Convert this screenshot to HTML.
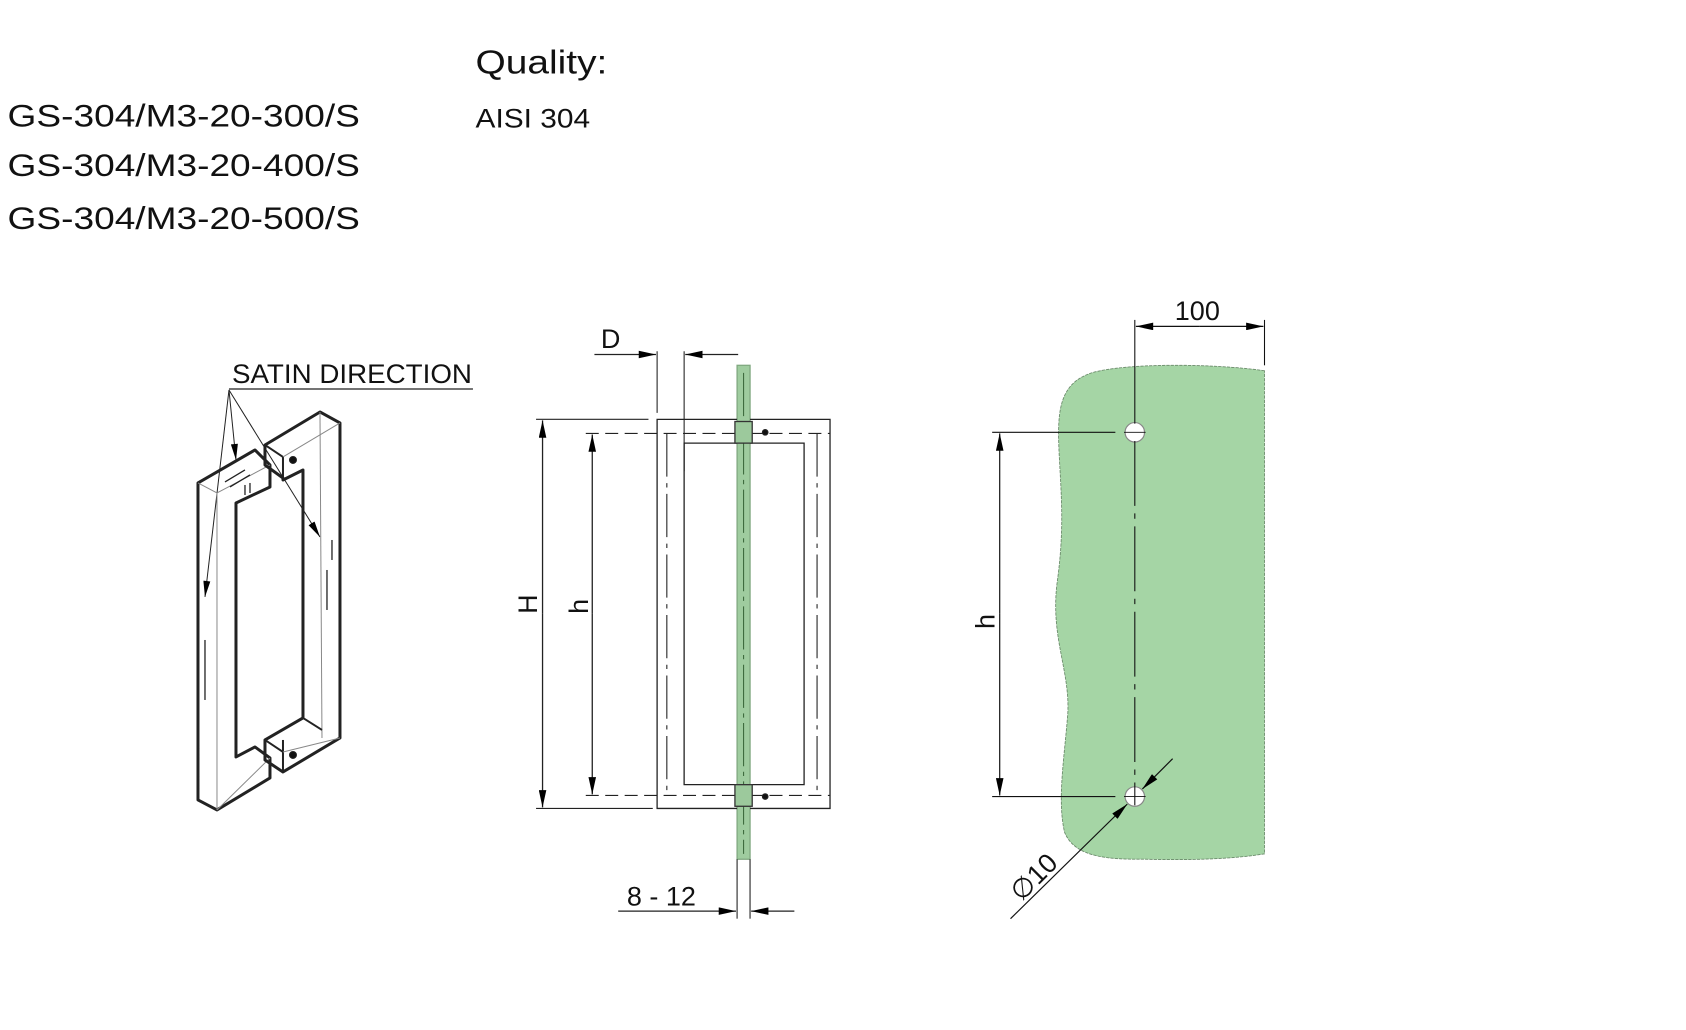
<!DOCTYPE html>
<html><head><meta charset="utf-8"><style>
html,body{margin:0;padding:0;background:#fff;width:1686px;height:1030px;overflow:hidden}
svg{display:block}
text{font-family:"Liberation Sans",sans-serif;fill:#111}
</style></head><body>
<svg width="1686" height="1030" viewBox="0 0 1560 953" preserveAspectRatio="none" xmlns="http://www.w3.org/2000/svg">
<defs>
<marker id="a" viewBox="0 0 16 7" refX="16" refY="3.5" markerWidth="18" markerHeight="7" markerUnits="userSpaceOnUse" orient="auto"><path d="M0,0 L16,3.5 L0,7 z" fill="#000"/></marker>
</defs>
<text x="440" y="68" font-size="31" textLength="122" lengthAdjust="spacingAndGlyphs">Quality:</text>
<text x="440" y="118" font-size="25" textLength="106" lengthAdjust="spacingAndGlyphs">AISI 304</text>
<text x="7" y="117" font-size="29" textLength="326" lengthAdjust="spacingAndGlyphs">GS-304/M3-20-300/S</text>
<text x="7" y="163" font-size="29" textLength="326" lengthAdjust="spacingAndGlyphs">GS-304/M3-20-400/S</text>
<text x="7" y="212" font-size="29" textLength="326" lengthAdjust="spacingAndGlyphs">GS-304/M3-20-500/S</text>

<g transform="scale(0.9252)" fill="none" stroke="#222" stroke-linejoin="round">
<text x="232" y="383" font-size="27" stroke="none" textLength="240" lengthAdjust="spacingAndGlyphs">SATIN DIRECTION</text>
<line x1="229" y1="389" x2="473" y2="389" stroke-width="1.2"/>
<g stroke-width="1" marker-end="url(#a)">
<line x1="229" y1="390" x2="205" y2="597"/>
<line x1="229" y1="390" x2="236" y2="460"/>
<line x1="229" y1="390" x2="320" y2="537"/>
</g>
<polygon points="198,483 255,450 270,465 270,487 236,503 236,757 255,747 270,758 270,778 217,810 198,800" stroke-width="3"/>
<line x1="217" y1="493" x2="217" y2="810" stroke="#888" stroke-width="1"/>
<line x1="198" y1="483" x2="217" y2="493" stroke="#888"/>
<line x1="217" y1="493" x2="270" y2="465" stroke="#888"/>
<line x1="217" y1="810" x2="270" y2="758" stroke="#888"/>
<polygon points="265,445 320,412 340,423 340,738 283,772 265,760 265,740 303,718 303,470 283,480 283,478 265,465" stroke-width="3"/>
<line x1="320" y1="412" x2="322" y2="738" stroke="#888"/>
<line x1="283" y1="457" x2="283" y2="478" stroke-width="2"/>
<line x1="283" y1="740" x2="283" y2="772" stroke-width="2"/>
<line x1="265" y1="445" x2="283" y2="457" stroke-width="2"/>
<line x1="265" y1="740" x2="283" y2="752" stroke-width="2"/>
<line x1="283" y1="457" x2="340" y2="423" stroke="#888"/>
<line x1="283" y1="752" x2="340" y2="738" stroke="#888"/>
<line x1="303" y1="718" x2="322" y2="730" stroke-width="2"/>
<circle cx="293" cy="460" r="3.5" fill="#111"/>
<circle cx="293" cy="755" r="3.5" fill="#111"/>
<g stroke-width="1.3">
<line x1="205" y1="640" x2="205" y2="700"/><line x1="327" y1="570" x2="327" y2="610"/><line x1="332" y1="540" x2="332" y2="560"/>
<line x1="225" y1="482" x2="245" y2="470"/><line x1="230" y1="487" x2="250" y2="475"/>
<line x1="245" y1="485" x2="245" y2="495"/><line x1="250" y1="483" x2="250" y2="493"/>
</g>
</g>

<g fill="none" stroke="#222" stroke-width="1.2">
<rect x="682" y="338" width="12" height="457" fill="#8fc48f" stroke="#6a9a6a" opacity="0.85"/>
<line x1="688" y1="345" x2="688" y2="790" stroke="#3d6a3d" stroke-width="1" stroke-dasharray="40,5,4,5"/>
<polyline points="682,388 608,388 608,748 682,748"/>
<polyline points="694,388 768,388 768,748 694,748"/>
<polyline points="682,410 633,410 633,726 682,726"/>
<polyline points="694,410 744,410 744,726 694,726"/>
<line x1="617" y1="401" x2="617" y2="736" stroke-dasharray="40,6,4,6" stroke-width="1"/>
<line x1="756" y1="401" x2="756" y2="736" stroke-dasharray="40,6,4,6" stroke-width="1"/>
<line x1="542" y1="401" x2="682" y2="401" stroke-dasharray="12,6" stroke-width="1"/>
<line x1="694" y1="401" x2="768" y2="401" stroke-dasharray="12,6" stroke-width="1"/>
<line x1="542" y1="736" x2="682" y2="736" stroke-dasharray="12,6" stroke-width="1"/>
<line x1="694" y1="736" x2="768" y2="736" stroke-dasharray="12,6" stroke-width="1"/>
<rect x="680" y="390" width="16" height="20" stroke="#333" fill="#9cc99c"/>
<rect x="680" y="726" width="16" height="20" stroke="#333" fill="#9cc99c"/>
<circle cx="708" cy="400" r="2.5" fill="#111"/>
<circle cx="708" cy="737" r="2.5" fill="#111"/>
<line x1="496" y1="388" x2="600" y2="388" stroke-width="1"/>
<line x1="496" y1="748" x2="604" y2="748" stroke-width="1"/>
<line x1="502" y1="568" x2="502" y2="389" marker-end="url(#a)"/>
<line x1="502" y1="568" x2="502" y2="747" marker-end="url(#a)"/>
<line x1="548" y1="568" x2="548" y2="402" marker-end="url(#a)"/>
<line x1="548" y1="568" x2="548" y2="735" marker-end="url(#a)"/>
<line x1="608" y1="325" x2="608" y2="382" stroke-width="1"/>
<line x1="633" y1="325" x2="633" y2="436" stroke-width="1"/>
<line x1="550" y1="328" x2="607" y2="328" marker-end="url(#a)"/>
<line x1="683" y1="328" x2="634" y2="328" marker-end="url(#a)"/>
<line x1="682" y1="795" x2="682" y2="850" stroke-width="1"/>
<line x1="694" y1="795" x2="694" y2="850" stroke-width="1"/>
<line x1="572" y1="843" x2="681" y2="843" marker-end="url(#a)"/>
<line x1="735" y1="843" x2="695" y2="843" marker-end="url(#a)"/>
</g>
<text x="556" y="322" font-size="25">D</text>
<text x="580" y="838" font-size="25">8 - 12</text>
<text transform="translate(497,568) rotate(-90)" font-size="25">H</text>
<text transform="translate(544,568) rotate(-90)" font-size="25">h</text>

<path d="M1170,343 C1120,336 1040,336 1010,345 C980,355 978,380 980,420 C982,460 985,490 978,540 C972,590 990,620 988,660 C985,700 978,740 985,770 C995,795 1030,795 1060,795 C1100,796 1140,795 1170,790 Z" fill="#a5d5a5" stroke="#6a8a6a" stroke-width="0.8" stroke-dasharray="3,1"/>
<g fill="none" stroke="#111" stroke-width="1.1">
<circle cx="1050" cy="400" r="9" fill="#fff" stroke="#888"/>
<circle cx="1050" cy="737" r="9" fill="#fff" stroke="#888"/>
<line x1="1050" y1="296" x2="1050" y2="392" stroke-width="1"/>
<line x1="1050" y1="408" x2="1050" y2="745" stroke-dasharray="60,7,5,7" stroke-width="1"/>
<line x1="1040" y1="400" x2="1060" y2="400" stroke-width="0.8"/>
<line x1="1040" y1="737" x2="1060" y2="737" stroke-width="0.8"/>
<line x1="1170" y1="296" x2="1170" y2="338" stroke-width="1"/>
<line x1="1110" y1="302" x2="1051" y2="302" marker-end="url(#a)"/>
<line x1="1110" y1="302" x2="1169" y2="302" marker-end="url(#a)"/>
<line x1="918" y1="400" x2="1032" y2="400" stroke-width="1"/>
<line x1="918" y1="737" x2="1032" y2="737" stroke-width="1"/>
<line x1="925" y1="568" x2="925" y2="401" marker-end="url(#a)"/>
<line x1="925" y1="568" x2="925" y2="736" marker-end="url(#a)"/>
<line x1="935" y1="850" x2="1043" y2="744" marker-end="url(#a)"/>
<line x1="1085" y1="702" x2="1057" y2="730" marker-end="url(#a)"/>
</g>
<text x="1087" y="296" font-size="25">100</text>
<text transform="translate(920,582) rotate(-90)" font-size="25">h</text>
<text transform="translate(945,835) rotate(-45)" font-size="25">∅10</text>
</svg>
</body></html>
